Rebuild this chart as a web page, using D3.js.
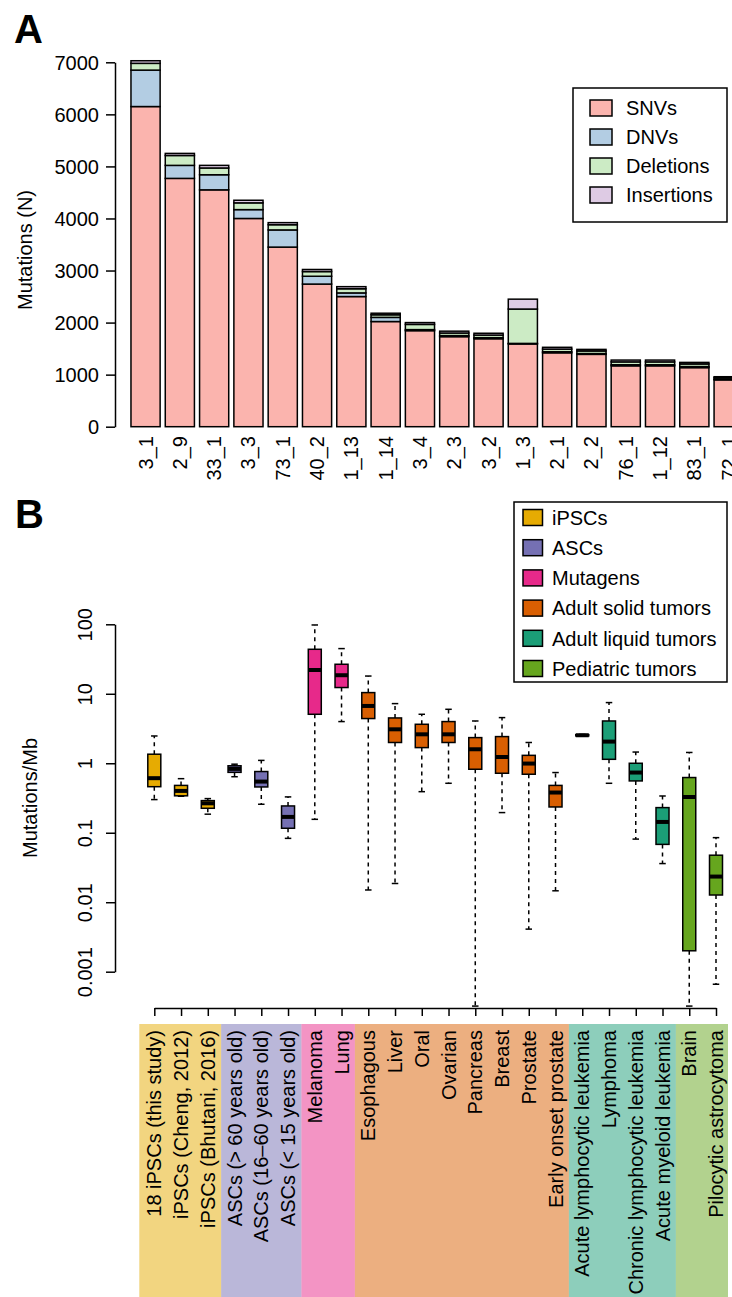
<!DOCTYPE html>
<html>
<head>
<meta charset="utf-8">
<script src="https://cdn.jsdelivr.net/npm/d3@7"></script>
<style>
body { margin: 0; background: #fff; }
text { font-family: "Liberation Sans", Arial, Helvetica, sans-serif; fill: #000; }
</style>
</head>
<body>
<div id="fig"></div>
<script>
// panel A: mutations per iPSC line
var samples = ["3_1","2_9","33_1","3_3","73_1","40_2","1_13","1_14","3_4","2_3","3_2","1_3","2_1","2_2","76_1","1_12","83_1","72_1"];
var snvs       = [6150,4770,4550,4000,3450,2740,2500,2020,1845,1730,1690,1590,1420,1390,1170,1170,1135,900];
var dnvs       = [700,250,290,170,330,150,70,80,20,20,20,10,20,15,20,20,20,10];
var deletions  = [130,190,130,130,100,90,80,50,100,50,50,660,50,50,55,55,50,30];
var insertions = [50,40,50,50,40,40,40,30,35,35,35,190,35,30,35,35,30,20];
var typeNames  = ["SNVs","DNVs","Deletions","Insertions"];
var yTicksA    = [0,1000,2000,3000,4000,5000,6000,7000];

// panel B: mutation rates (five-number summaries)
var categories = ["18 iPSCs (this study)","iPSCs (Cheng, 2012)","iPSCs (Bhutani, 2016)",
  "ASCs (> 60 years old)","ASCs (16\u201360 years old)","ASCs (< 15 years old)",
  "Melanoma","Lung","Esophagous","Liver","Oral","Ovarian","Pancreas","Breast","Prostate","Early onset prostate",
  "Acute lymphocytic leukemia","Lymphoma","Chronic lymphocytic leukemia","Acute myeloid leukemia",
  "Brain","Pilocytic astrocytoma"];
var groupOf = ["iPSCs","iPSCs","iPSCs","ASCs","ASCs","ASCs","Mutagens","Mutagens",
  "Adult solid tumors","Adult solid tumors","Adult solid tumors","Adult solid tumors",
  "Adult solid tumors","Adult solid tumors","Adult solid tumors","Adult solid tumors",
  "Adult liquid tumors","Adult liquid tumors","Adult liquid tumors","Adult liquid tumors",
  "Pediatric tumors","Pediatric tumors"];
var whiskerLow  = [0.30,0.335,0.185,0.64,0.257,0.083,0.156,3.98,0.015,0.0186,0.39,0.515,0.00032,0.195,0.0041,0.0146,2.45,0.515,0.081,0.036,0.00032,0.00066];
var quart1      = [0.46,0.34,0.225,0.74,0.456,0.116,5.07,12.3,4.40,1.99,1.68,1.99,0.82,0.718,0.695,0.235,2.48,1.14,0.557,0.068,0.002,0.0127];
var medians     = [0.61,0.40,0.265,0.83,0.545,0.169,22.0,18.5,6.68,3.08,2.61,2.61,1.59,1.23,0.99,0.379,2.53,2.05,0.735,0.143,0.327,0.0234];
var quart3      = [1.35,0.48,0.29,0.92,0.76,0.243,43.7,26.6,10.4,4.49,3.64,3.98,2.34,2.42,1.30,0.48,2.58,4.06,1.0,0.23,0.623,0.0475];
var whiskerHigh = [2.47,0.60,0.31,0.97,1.10,0.328,97.8,44.7,18.0,7.22,5.07,5.98,4.06,4.54,1.99,0.735,2.6,7.47,1.45,0.338,1.43,0.085];
var groups = ["iPSCs","ASCs","Mutagens","Adult solid tumors","Adult liquid tumors","Pediatric tumors"];
var yTicksB = [0.001,0.01,0.1,1,10,100];
var yTickLabelsB = ["0.001","0.01","0.1","1","10","100"];

var typeColors  = ["#FBB4AE","#B3CDE3","#CCEBC5","#DECBE4"];
var groupColors = ["#E6AB02","#7570B3","#E7298A","#D95F02","#1B9E77","#66A61E"];

var svgWidth = 732;
var svgHeight = 1297;

var svg = d3.select("#fig")
  .append("svg")
  .attr("width", svgWidth)
  .attr("height", svgHeight);

svg.append("rect").attr("width", svgWidth).attr("height", svgHeight).attr("fill", "#fff");

// ---------- A ----------
var yA = d3.scaleLinear().domain([0, 7000]).range([426.7, 62.3]);
var xA = d3.scaleBand().domain(samples).range([128.4, 745.8]).paddingInner(0.15).paddingOuter(0.075);

var table = samples.map(function(s, i) {
  return {sample: s, SNVs: snvs[i], DNVs: dnvs[i], Deletions: deletions[i], Insertions: insertions[i]};
});
var stacked = d3.stack().keys(typeNames)(table);

svg.append("g")
  .selectAll("g")
  .data(stacked)
  .enter()
  .append("g")
  .attr("fill", function(d, i) { return typeColors[i]; })
  .selectAll("rect")
  .data(function(d) { return d; })
  .enter()
  .append("rect")
  .attr("x", function(d) { return xA(d.data.sample); })
  .attr("y", function(d) { return yA(d[1]); })
  .attr("width", xA.bandwidth())
  .attr("height", function(d) { return yA(d[0]) - yA(d[1]); })
  .attr("stroke", "#000")
  .attr("stroke-width", 1.5);

var axA = svg.append("g")
  .attr("transform", "translate(115,0)")
  .call(d3.axisLeft(yA).tickValues(yTicksA).tickFormat(d3.format("d")).tickSize(9).tickSizeOuter(0).tickPadding(7));
axA.selectAll("path, line").attr("stroke", "#000").attr("stroke-width", 1.5);
axA.selectAll("text").attr("font-size", 20).attr("font-family", null).attr("dy", "0.36em");

svg.append("g")
  .selectAll("text")
  .data(samples)
  .enter()
  .append("text")
  .attr("transform", function(d) { return "translate(" + (xA(d) + xA.bandwidth() / 2 + 7) + ",436) rotate(-90)"; })
  .attr("text-anchor", "end")
  .attr("font-size", 20)
  .text(function(d) { return d; });

svg.append("text")
  .attr("transform", "translate(32,250) rotate(-90)")
  .attr("text-anchor", "middle")
  .attr("font-size", 20)
  .text("Mutations (N)");

var legA = svg.append("g");
legA.append("rect")
  .attr("x", 573).attr("y", 88).attr("width", 154).attr("height", 134)
  .attr("fill", "#fff").attr("stroke", "#000").attr("stroke-width", 1.5);
legA.selectAll("rect.sw")
  .data(typeNames)
  .enter()
  .append("rect")
  .attr("class", "sw")
  .attr("x", 590)
  .attr("y", function(d, i) { return 100 + i * 29; })
  .attr("width", 22)
  .attr("height", 16)
  .attr("fill", function(d, i) { return typeColors[i]; })
  .attr("stroke", "#000")
  .attr("stroke-width", 1.5);
legA.selectAll("text")
  .data(typeNames)
  .enter()
  .append("text")
  .attr("x", 626)
  .attr("y", function(d, i) { return 108 + i * 29; })
  .attr("dy", "0.36em")
  .attr("font-size", 20)
  .text(function(d) { return d; });

svg.append("text").attr("x", 14).attr("y", 43).attr("font-size", 40).attr("font-weight", "bold").text("A");

// ---------- B ----------
var yB = d3.scaleLog().domain([0.001, 100]).range([971.7, 624.3]);
var xB = d3.scalePoint().domain(categories).range([154.3, 716]);
var color = d3.scaleOrdinal().domain(groups).range(groupColors);
var step = xB.step();

// coloured bands behind the labels
var bands = groups.map(function(g) {
  var idx = [];
  groupOf.forEach(function(d, i) { if (d === g) idx.push(i); });
  var first = idx[0], last = idx[idx.length - 1];
  var left = first === 0 ? xB(categories[first]) - 15 : xB(categories[first]) - step / 2;
  var right = last === categories.length - 1 ? xB(categories[last]) + 12 : xB(categories[last]) + step / 2;
  return {group: g, x0: left, x1: right};
});

svg.append("g")
  .selectAll("rect")
  .data(bands)
  .enter()
  .append("rect")
  .attr("x", function(d) { return d.x0; })
  .attr("y", 1024)
  .attr("width", function(d) { return d.x1 - d.x0; })
  .attr("height", svgHeight - 1024)
  .attr("fill", function(d) { return color(d.group); })
  .attr("fill-opacity", 0.5);

svg.append("g")
  .selectAll("text")
  .data(categories)
  .enter()
  .append("text")
  .attr("transform", function(d) { return "translate(" + (xB(d) + 7) + ",1030) rotate(-90)"; })
  .attr("text-anchor", "end")
  .attr("font-size", 20)
  .text(function(d) { return d; });

svg.append("defs").append("clipPath").attr("id", "plotB")
  .append("rect").attr("x", 116).attr("y", 600).attr("width", 616).attr("height", 408);

var boxes = categories.map(function(c, i) {
  return {cat: c, group: groupOf[i], lo: whiskerLow[i], q1: quart1[i], med: medians[i], q3: quart3[i], hi: whiskerHigh[i]};
});

var boxW = 13;
var plotB = svg.append("g").attr("clip-path", "url(#plotB)");
var bx = plotB.selectAll("g.box")
  .data(boxes)
  .enter()
  .append("g")
  .attr("class", "box")
  .attr("transform", function(d) { return "translate(" + xB(d.cat) + ",0)"; });

bx.append("line")
  .attr("y1", function(d) { return yB(d.q3); })
  .attr("y2", function(d) { return yB(d.hi); })
  .attr("stroke", "#000").attr("stroke-width", 1.5).attr("stroke-dasharray", "4,4");
bx.append("line")
  .attr("y1", function(d) { return yB(d.q1); })
  .attr("y2", function(d) { return yB(d.lo); })
  .attr("stroke", "#000").attr("stroke-width", 1.5).attr("stroke-dasharray", "4,4");
bx.append("line")
  .attr("x1", -boxW / 4).attr("x2", boxW / 4)
  .attr("y1", function(d) { return yB(d.hi); })
  .attr("y2", function(d) { return yB(d.hi); })
  .attr("stroke", "#000").attr("stroke-width", 1.5);
bx.append("line")
  .attr("x1", -boxW / 4).attr("x2", boxW / 4)
  .attr("y1", function(d) { return yB(d.lo); })
  .attr("y2", function(d) { return yB(d.lo); })
  .attr("stroke", "#000").attr("stroke-width", 1.5);
bx.append("rect")
  .attr("x", -boxW / 2)
  .attr("y", function(d) { return yB(d.q3); })
  .attr("width", boxW)
  .attr("height", function(d) { return yB(d.q1) - yB(d.q3); })
  .attr("fill", function(d) { return color(d.group); })
  .attr("stroke", "#000").attr("stroke-width", 1.5);
bx.append("line")
  .attr("x1", -boxW / 2).attr("x2", boxW / 2)
  .attr("y1", function(d) { return yB(d.med); })
  .attr("y2", function(d) { return yB(d.med); })
  .attr("stroke", "#000").attr("stroke-width", 4);

var axB = svg.append("g")
  .attr("transform", "translate(115,0)")
  .call(d3.axisLeft(yB).tickValues(yTicksB).tickSize(9).tickSizeOuter(0)
    .tickFormat(function(d, i) { return yTickLabelsB[i]; }));
axB.selectAll("path, line").attr("stroke", "#000").attr("stroke-width", 1.5);
axB.selectAll("text")
  .attr("font-size", 20).attr("font-family", null)
  .attr("transform", "rotate(-90)")
  .attr("text-anchor", "middle")
  .attr("x", 0).attr("y", -23).attr("dy", 0);

var axX = svg.append("g")
  .attr("transform", "translate(0,1008)")
  .call(d3.axisBottom(xB).tickSize(8).tickSizeOuter(0).tickFormat(""));
axX.selectAll("path, line").attr("stroke", "#000").attr("stroke-width", 1.5);

svg.append("text")
  .attr("transform", "translate(37,798) rotate(-90)")
  .attr("text-anchor", "middle")
  .attr("font-size", 20)
  .text("Mutations/Mb");

var legB = svg.append("g");
legB.append("rect")
  .attr("x", 514).attr("y", 502).attr("width", 213).attr("height", 180)
  .attr("fill", "#fff").attr("stroke", "#000").attr("stroke-width", 1.5);
legB.selectAll("rect.sw")
  .data(groups)
  .enter()
  .append("rect")
  .attr("class", "sw")
  .attr("x", 523)
  .attr("y", function(d, i) { return 509.5 + i * 30.2; })
  .attr("width", 19.5)
  .attr("height", 16)
  .attr("fill", function(d) { return color(d); })
  .attr("stroke", "#000")
  .attr("stroke-width", 1.5);
legB.selectAll("text")
  .data(groups)
  .enter()
  .append("text")
  .attr("x", 552)
  .attr("y", function(d, i) { return 517.5 + i * 30.2; })
  .attr("dy", "0.36em")
  .attr("font-size", 20)
  .text(function(d) { return d; });

svg.append("text").attr("x", 15).attr("y", 528).attr("font-size", 40).attr("font-weight", "bold").text("B");
</script>
</body>
</html>
